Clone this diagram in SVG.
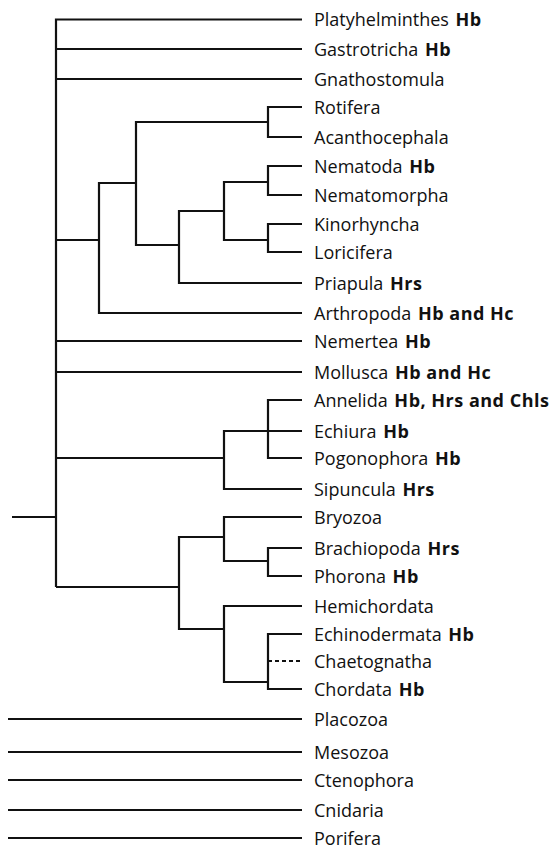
<svg xmlns="http://www.w3.org/2000/svg" width="554" height="848" viewBox="0 0 554 848">
<style>
.c{fill:none;stroke:#111;stroke-width:2.2;stroke-linejoin:miter;stroke-linecap:butt}
.d{stroke-dasharray:4 3}
text{font-family:"Open Sans","Noto Sans",sans-serif;font-size:18px;fill:#111}
.b{font-weight:bold;letter-spacing:0.5px}
</style>
<rect width="554" height="848" fill="#fff"/>
<g id="connectors">
<path class="c" d="M12 517 H56 M56 18.5 V587 M56 19.5 H302 M56 49 H302 M56 79 H302 M56 341 H302 M56 372 H302"/>
<path class="c" d="M56 240 H99 M302 313 H99 V183 H136 M136 122 H268 M302 107 H268 V137 H302 M136 121 V245 H179 M302 283 H179 V211 H224 M224 182 H268 M302 166 H268 V195 H302 M224 181 V240 H268 M302 224 H268 V252 H302"/>
<path class="c" d="M56 458 H224 M302 431 H224 V489 H302 M302 400 H268 V458 H302"/>
<path class="c" d="M56 587 H179 M224 537 H179 V629 H224 M302 517 H224 V561 H268 M302 548 H268 V576 H302 M302 606 H224 V682 H268 M302 634 H268 V689 H302"/>
<path class="c d" d="M268 661 H302"/>
<path class="c" d="M8 719 H302 M8 752 H302 M8 780 H302 M8 810 H302 M8 838 H302"/>
</g>
<g id="n-platyhelminthes"><text x="314" y="26">Platyhelminthes <tspan class="b" dx="2">Hb</tspan></text></g>
<g id="n-gastrotricha"><text x="314" y="55.5">Gastrotricha <tspan class="b" dx="2">Hb</tspan></text></g>
<g id="n-gnathostomula"><text x="314" y="85.5">Gnathostomula</text></g>
<g id="n-rotifera"><text x="314" y="113.5">Rotifera</text></g>
<g id="n-acanthocephala"><text x="314" y="143.5">Acanthocephala</text></g>
<g id="n-nematoda"><text x="314" y="172.5">Nematoda <tspan class="b" dx="2">Hb</tspan></text></g>
<g id="n-nematomorpha"><text x="314" y="201.5">Nematomorpha</text></g>
<g id="n-kinorhyncha"><text x="314" y="230.5">Kinorhyncha</text></g>
<g id="n-loricifera"><text x="314" y="258.5">Loricifera</text></g>
<g id="n-priapula"><text x="314" y="289.5">Priapula <tspan class="b" dx="2">Hrs</tspan></text></g>
<g id="n-arthropoda"><text x="314" y="319.5">Arthropoda <tspan class="b" dx="2">Hb and Hc</tspan></text></g>
<g id="n-nemertea"><text x="314" y="347.5">Nemertea <tspan class="b" dx="2">Hb</tspan></text></g>
<g id="n-mollusca"><text x="314" y="378.5">Mollusca <tspan class="b" dx="2">Hb and Hc</tspan></text></g>
<g id="n-annelida"><text x="314" y="406.5">Annelida <tspan class="b" dx="2">Hb, Hrs and Chls</tspan></text></g>
<g id="n-echiura"><text x="314" y="437.5">Echiura <tspan class="b" dx="2">Hb</tspan></text></g>
<g id="n-pogonophora"><text x="314" y="464.5">Pogonophora <tspan class="b" dx="2">Hb</tspan></text></g>
<g id="n-sipuncula"><text x="314" y="495.5">Sipuncula <tspan class="b" dx="2">Hrs</tspan></text></g>
<g id="n-bryozoa"><text x="314" y="523.5">Bryozoa</text></g>
<g id="n-brachiopoda"><text x="314" y="554.5">Brachiopoda <tspan class="b" dx="2">Hrs</tspan></text></g>
<g id="n-phorona"><text x="314" y="582.5">Phorona <tspan class="b" dx="2">Hb</tspan></text></g>
<g id="n-hemichordata"><text x="314" y="612.5">Hemichordata</text></g>
<g id="n-echinodermata"><text x="314" y="640.5">Echinodermata <tspan class="b" dx="2">Hb</tspan></text></g>
<g id="n-chaetognatha"><text x="314" y="667.5">Chaetognatha</text></g>
<g id="n-chordata"><text x="314" y="695.5">Chordata <tspan class="b" dx="2">Hb</tspan></text></g>
<g id="n-placozoa"><text x="314" y="725.5">Placozoa</text></g>
<g id="n-mesozoa"><text x="314" y="758.5">Mesozoa</text></g>
<g id="n-ctenophora"><text x="314" y="786.5">Ctenophora</text></g>
<g id="n-cnidaria"><text x="314" y="816.5">Cnidaria</text></g>
<g id="n-porifera"><text x="314" y="844.5">Porifera</text></g>
</svg>
